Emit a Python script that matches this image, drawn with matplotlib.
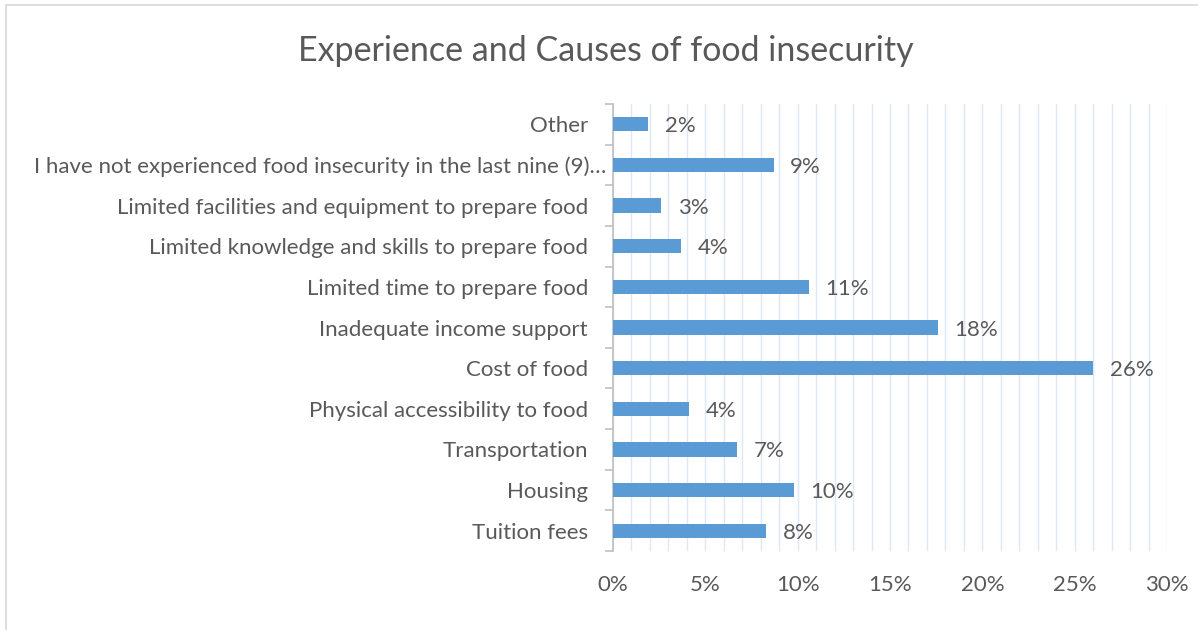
import matplotlib.pyplot as plt
from matplotlib.patches import Rectangle
from matplotlib.ticker import MultipleLocator, FuncFormatter

categories = [
    'Tuition fees',
    'Housing',
    'Transportation',
    'Physical accessibility to food',
    'Cost of food',
    'Inadequate income support',
    'Limited time to prepare food',
    'Limited knowledge and skills to prepare food',
    'Limited facilities and equipment to prepare food',
    'I have not experienced food insecurity in the last nine (9)…',
    'Other',
]
shares = [8.3, 9.8, 6.7, 4.1, 26.0, 17.6, 10.6, 3.7, 2.6, 8.7, 1.9]

text_col = '#595959'
bar_col = '#5b9bd5'

plt.rcParams['font.family'] = ['Lato', 'DejaVu Sans']

fig = plt.figure(figsize=(11.98, 6.30), dpi=100)
ax = fig.add_axes([613 / 1198, 1 - 551 / 630, (1167 - 613) / 1198, (551 - 104) / 630])

# thin grey frame around the chart area
fig.patches.append(Rectangle((6 / 1198, -0.01), 1.0, 1 - 5 / 630 + 0.01,
                             transform=fig.transFigure, fill=False,
                             edgecolor='#d9d9d9', linewidth=1.2))

ypos = range(len(categories))
ax.barh(ypos, shares, height=0.35, color=bar_col, zorder=3)

for y, v in zip(ypos, shares):
    ax.text(v + 0.9, y, '{0:.0f}%'.format(v), va='center_baseline', ha='left',
            fontsize=16, color=text_col)

ax.set_xlim(0, 30)
ax.set_ylim(-0.5, len(categories) - 0.5)
ax.xaxis.set_major_locator(MultipleLocator(5))
ax.xaxis.set_minor_locator(MultipleLocator(1))
ax.xaxis.set_major_formatter(FuncFormatter(lambda x, p: '{0:.0f}%'.format(x)))
ax.grid(axis='x', which='both', color='#dce8f5', linewidth=1, zorder=0)

ax.set_yticks(list(ypos))
ax.set_yticklabels([])
ax.set_yticks([y + 0.5 for y in range(-1, len(categories))], minor=True)

# category names drawn by hand; the truncated one sits further right
for y, name in zip(ypos, categories):
    dx = -7 if name.endswith('…') else -25
    ax.annotate(name, xy=(0, y), xycoords=('axes fraction', 'data'),
                xytext=(dx, 0), textcoords='offset pixels',
                ha='right', va='center_baseline', fontsize=16, color=text_col)

for s in ['top', 'right', 'bottom']:
    ax.spines[s].set_visible(False)
ax.spines['left'].set_color('#bfbfbf')
ax.spines['left'].set_linewidth(1.2)

ax.tick_params(axis='x', which='both', length=0, labelsize=16, labelcolor=text_col, pad=17)
ax.tick_params(axis='y', which='major', length=0)
ax.tick_params(axis='y', which='minor', length=6, color='#bfbfbf', width=1.2)

fig.text(606 / 1198, 1 - 51 / 630, 'Experience and Causes of food insecurity',
         ha='center', va='center', fontsize=24.5, color=text_col)

fig.savefig('out.png', dpi=100)
